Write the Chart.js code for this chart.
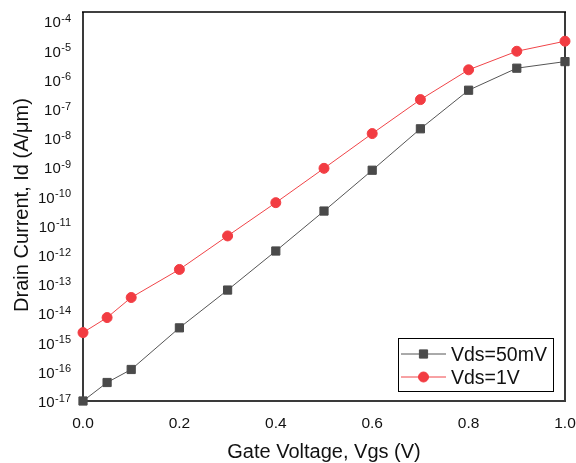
<!DOCTYPE html>
<html><head><meta charset="utf-8">
<script src="https://cdn.jsdelivr.net/npm/chart.js@4.4.0/dist/chart.umd.min.js"></script>
<style>html,body{margin:0;padding:0;background:#fff;}#wrap{width:576px;height:463px;}</style>
</head><body><div id="wrap"><canvas id="c" width="576" height="463"></canvas></div>
<script>
const vgs = [0, 0.05, 0.1, 0.2, 0.3, 0.4, 0.5, 0.6, 0.7, 0.8, 0.9, 1.0];
const id50mV = [1e-17, 4.3e-17, 1.2e-16, 3.2e-15, 6.3e-14, 1.37e-12, 3.2e-11, 8e-10, 2.1e-8, 4.4e-7, 2.5e-6, 4.2e-6];
const id1V = [2.2e-15, 7.2e-15, 3.5e-14, 3.2e-13, 4.5e-12, 6.2e-11, 9.3e-10, 1.44e-8, 2.1e-7, 2.2e-6, 9.5e-6, 2.1e-5];
const seriesLabels = ['Vds=50mV', 'Vds=1V'];
const xTicks = [0, 0.2, 0.4, 0.6, 0.8, 1.0];
const yExponents = [-17, -16, -15, -14, -13, -12, -11, -10, -9, -8, -7, -6, -5, -4];
const xTitle = 'Gate Voltage, Vgs (V)';
const yTitle = 'Drain Current, Id (A/\u03bcm)';

const FONT = '"Liberation Sans", Arial, sans-serif';
const BLACK_SER = '#4a4a4a';
const RED_SER = '#f23c42';

const deco = {
  id: 'deco',
  beforeDatasetsDraw(chart) {
    const {ctx, chartArea: a} = chart;
    ctx.save();
    ctx.strokeStyle = '#3a3a3a';
    ctx.lineWidth = 2;
    ctx.beginPath();
    ctx.moveTo(a.left, a.top); ctx.lineTo(a.left, a.bottom);
    ctx.lineTo(a.right, a.bottom); ctx.lineTo(a.right, a.top);
    ctx.stroke();
    ctx.strokeStyle = '#000';
    ctx.lineWidth = 1.5;
    ctx.beginPath();
    ctx.moveTo(a.left - 1, a.top); ctx.lineTo(a.right + 1, a.top);
    ctx.stroke();
    ctx.restore();
  },
  afterDraw(chart) {
    const {ctx, chartArea: a} = chart;
    const xs = chart.scales.x, ys = chart.scales.y;
    ctx.save();
    ctx.fillStyle = '#111';
    // y tick labels
    yExponents.forEach(e => {
      const ty = ys.getPixelForValue(Math.pow(10, e));
      const ex = String(e);
      ctx.font = '11px ' + FONT;
      const ew = ctx.measureText(ex).width;
      ctx.textAlign = 'right';
      ctx.textBaseline = 'alphabetic';
      ctx.fillText(ex, 71, ty + 0.5);
      ctx.font = '15px ' + FONT;
      ctx.fillText('10', 71 - ew - 0.5, ty + 6);
    });
    // x tick labels
    ctx.font = '15.5px ' + FONT;
    ctx.textAlign = 'center';
    xTicks.forEach(v => {
      ctx.fillText(v.toFixed(1), xs.getPixelForValue(v), 428);
    });
    // titles
    ctx.font = '20px ' + FONT;
    ctx.fillText(xTitle, (a.left + a.right) / 2, 458);
    ctx.save();
    ctx.translate(28, 205);
    ctx.rotate(-Math.PI / 2);
    ctx.fillText(yTitle, 0, 0);
    ctx.restore();
    // legend
    ctx.strokeStyle = '#000';
    ctx.lineWidth = 1;
    ctx.strokeRect(398.5, 338.5, 155, 53);
    chart.data.datasets.forEach((ds, i) => {
      const ly = 354 + i * 23;
      ctx.strokeStyle = ds.borderColor;
      ctx.lineWidth = 1;
      ctx.beginPath(); ctx.moveTo(401, ly); ctx.lineTo(446, ly); ctx.stroke();
      ctx.fillStyle = ds.pointBackgroundColor;
      ctx.strokeStyle = ds.pointBorderColor;
      Chart.helpers.drawPoint(ctx, {pointStyle: ds.pointStyle, radius: ds.pointRadius, rotation: 0, borderWidth: 1}, 423.5, ly);
      ctx.fillStyle = '#111';
      ctx.font = '19.5px ' + FONT;
      ctx.textAlign = 'left';
      ctx.fillText(ds.label, 451, ly + 7);
    });
    ctx.restore();
  }
};

new Chart(document.getElementById('c'), {
  type: 'line',
  data: {
    datasets: [
      {
        label: seriesLabels[0],
        data: vgs.map((v, i) => ({x: v, y: id50mV[i]})),
        borderColor: '#555555', borderWidth: 1,
        pointStyle: 'rect', pointRadius: 5.8, pointHoverRadius: 5.8,
        pointBackgroundColor: BLACK_SER, pointBorderColor: BLACK_SER, pointBorderWidth: 1,
        clip: false, tension: 0
      },
      {
        label: seriesLabels[1],
        data: vgs.map((v, i) => ({x: v, y: id1V[i]})),
        borderColor: '#f04448', borderWidth: 1,
        pointStyle: 'circle', pointRadius: 5, pointHoverRadius: 5,
        pointBackgroundColor: RED_SER, pointBorderColor: RED_SER, pointBorderWidth: 1,
        clip: false, tension: 0
      }
    ]
  },
  options: {
    responsive: false,
    animation: false,
    devicePixelRatio: 1,
    layout: {padding: {top: 12, right: 11, left: 0, bottom: 0}},
    plugins: {legend: {display: false}, tooltip: {enabled: false}, title: {display: false}},
    events: [],
    scales: {
      x: {
        type: 'linear', min: 0, max: 1,
        grid: {display: false}, border: {display: false},
        ticks: {display: false},
        afterBuildTicks(s) { s.ticks = xTicks.map(v => ({value: v})); },
        afterFit(s) { s.height = 62; }
      },
      y: {
        type: 'logarithmic', min: 1e-17, max: 2.1e-4,
        grid: {display: false}, border: {display: false},
        ticks: {display: false},
        afterBuildTicks(s) { s.ticks = yExponents.map(e => ({value: Math.pow(10, e)})); },
        afterFit(s) { s.width = 83; }
      }
    }
  },
  plugins: [deco]
});
</script></body></html>
